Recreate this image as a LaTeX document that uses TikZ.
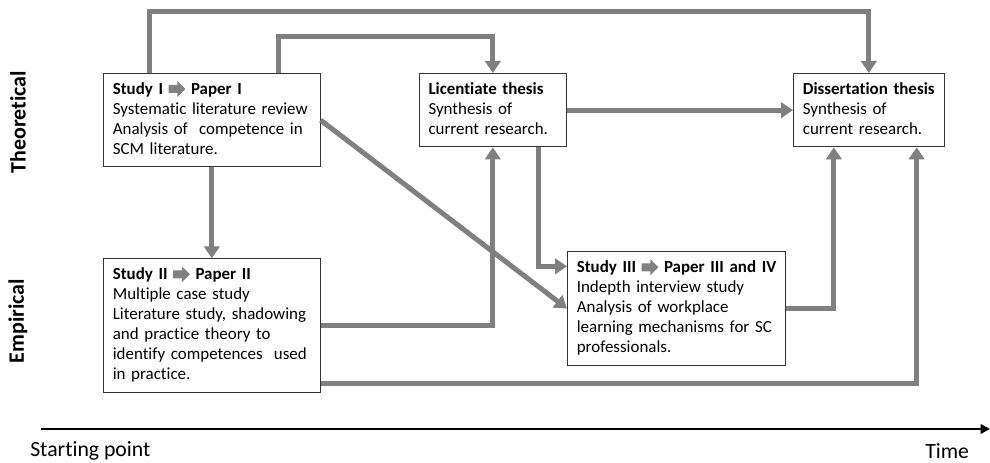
\documentclass[tikz,border=0pt]{standalone}
\usepackage{fontspec}
\setmainfont{Carlito}[Ligatures=NoCommon]
\usepackage{tikz}
\usetikzlibrary{positioning, arrows.meta}
\usepackage{xcolor}
\definecolor{flowgray}{RGB}{128,128,128}
\definecolor{boxline}{RGB}{50,50,50}
\newcommand{\paperarrow}{\tikz[baseline=-3.9pt]\fill[flowgray] (0pt,-3pt) -- (6.5pt,-3pt) -- (6.5pt,-6pt) -- (12.5pt,0pt) -- (6.5pt,6pt) -- (6.5pt,3pt) -- (0pt,3pt) -- cycle;}
\newcommand{\boxtitle}[1]{\mbox{\textbf{#1}}}

\begin{document}
\begin{tikzpicture}[x=0.75pt, y=-0.75pt,
                box/.style={draw=boxline, line width=0.75pt, fill=white, align=left,
                    inner xsep=7pt, inner ysep=5pt, anchor=north west,
                    font=\fontsize{12.7}{15}\selectfont,
                    execute at begin node=\strut, execute at end node=\strut},
                flow/.style={draw=flowgray, line width=3.75pt,
                    -{Triangle[length=9pt,width=11.5pt]}},
                side/.style={rotate=90, font=\bfseries\fontsize{16.5}{18}\selectfont},
                timeline/.style={line width=2pt, -{Triangle[length=7pt,width=7pt]}},
                axislabel/.style={anchor=base west, inner sep=0pt, font=\fontsize{16.3}{18}\selectfont}]
            
                \useasboundingbox (0,0) rectangle (990,463);
            
                \node[side] (theo) at (18,122) {Theoretical};
                \node[side] (emp) at (18,321) {Empirical};
            
                \node[box, text width=148.5pt] (s1) at (103,73)
                    {\boxtitle{Study I \paperarrow\ Paper I}\\Systematic literature review\\Analysis of \ competence in\\SCM literature.};
                \node[box, text width=96.5pt] (lic) [below right=0pt and 73.5pt of s1.north east]
                    {\boxtitle{Licentiate thesis}\\Synthesis of\\current research.};
                \node[box, text width=99pt] (dis) [below right=0pt and 169.5pt of lic.north east]
                    {\boxtitle{Dissertation thesis}\\Synthesis of\\current research.};
                \node[box, text width=148.5pt] (s2) [below right=68.25pt and 0pt of s1.south west]
                    {\boxtitle{Study II \paperarrow\ Paper II}\\Multiple case study\\Literature study, shadowing\\and practice theory to\\identify competences \ used\\in practice.};
                \node[box, text width=149.5pt] (s3) [below right=78pt and 0pt of lic.south east]
                    {\boxtitle{Study III \paperarrow\ Paper III and IV}\\Indepth interview study\\Analysis of workplace\\learning mechanisms for SC\\professionals.};
            
                \path[flow]
                ([xshift=34.5pt]s1.north west) -- ++(0,45.75pt) -| (dis.north);
                \path[flow]
                ([xshift=131.25pt]s1.north west) -- ++(0,27pt) -| (lic.north);
                \path[flow] (lic.east) -- (dis.west);
                \path[flow] ([xshift=-21.75pt]lic.south east) |- ([yshift=-11.25pt]s3.north west);
                \path[flow] (s1.east) -- (s3.west);
                \path[flow] (s1.south) -- (s2.north);
                \path[flow] (s2.east) -| (lic.south);
                \path[flow] (s3.east) -| ([xshift=-26.25pt]dis.south);
                \path[flow] ([yshift=6.75pt]s2.south east) -| ([xshift=-21pt]dis.south east);
            
                \coordinate (t0) at (41,429);
                \coordinate (t1) at (990,429);
                \draw[timeline] (t0) -- (t1);
                \node[axislabel] (sp) at (30,457) {Starting point};
                \node[axislabel] (time) at (925,459) {Time};
            \end{tikzpicture}
\end{document}
